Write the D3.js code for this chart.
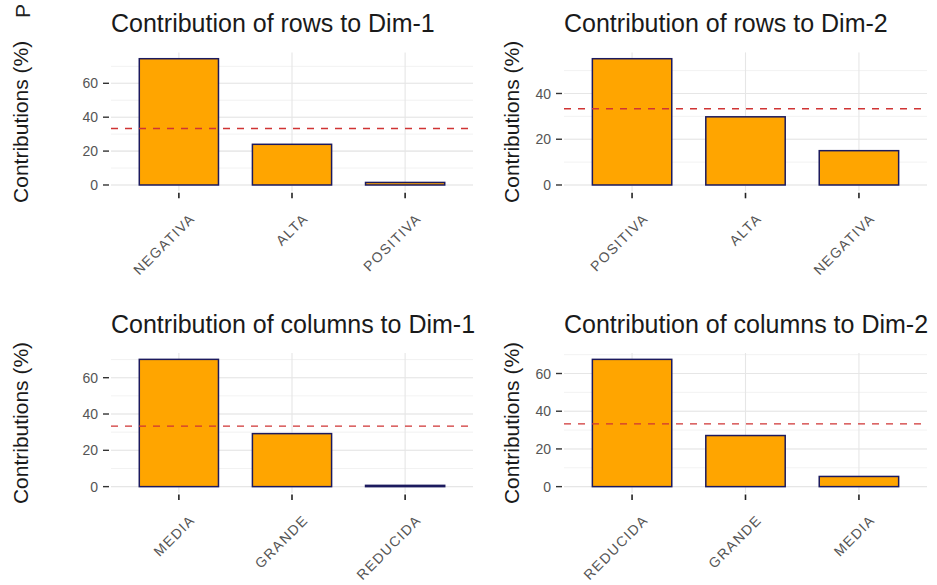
<!DOCTYPE html>
<html>
<head>
<meta charset="utf-8">
<script src="https://cdn.jsdelivr.net/npm/d3@7"></script>
<style>
  html, body { margin: 0; padding: 0; background: #ffffff; }
  svg { display: block; font-family: "Liberation Sans", Arial, sans-serif; }
</style>
</head>
<body>
<svg id="chart" width="937" height="585"></svg>
<script>
// Contribution (%) of each category to the first two dimensions
const rowsDim1Cats = ["NEGATIVA", "ALTA", "POSITIVA"];
const rowsDim1Vals = [74.5, 24.0, 1.5];

const rowsDim2Cats = ["POSITIVA", "ALTA", "NEGATIVA"];
const rowsDim2Vals = [55.2, 29.8, 15.0];

const colsDim1Cats = ["MEDIA", "GRANDE", "REDUCIDA"];
const colsDim1Vals = [70.1, 29.2, 0.7];

const colsDim2Cats = ["REDUCIDA", "GRANDE", "MEDIA"];
const colsDim2Vals = [67.5, 27.1, 5.4];

const panelTitles = [
  "Contribution of rows to Dim-1",
  "Contribution of rows to Dim-2",
  "Contribution of columns to Dim-1",
  "Contribution of columns to Dim-2"
];
const yAxisTitle = "Contributions (%)";
const expectedAverage = 100 / 3;   // reference line: uniform contribution

const svg = d3.select("#chart");

// panel boxes
const colX = [[111, 473], [564, 927]];
const rowY = [[52.4, 191.3], [353, 493]];
const yTitleX = [28, 519];

const panels = [
  { cats: rowsDim1Cats, vals: rowsDim1Vals, title: panelTitles[0], c: 0, r: 0 },
  { cats: rowsDim2Cats, vals: rowsDim2Vals, title: panelTitles[1], c: 1, r: 0 },
  { cats: colsDim1Cats, vals: colsDim1Vals, title: panelTitles[2], c: 0, r: 1 },
  { cats: colsDim2Cats, vals: colsDim2Vals, title: panelTitles[3], c: 1, r: 1 }
];

panels.forEach(p => {
  const [x0, x1] = colX[p.c];
  const [y0, y1] = rowY[p.r];
  const maxV = d3.max(p.vals);

  const x = d3.scaleBand().domain(p.cats).range([x0, x1])
    .paddingInner(0.3).paddingOuter(0.25);
  const y = d3.scaleLinear().domain([-0.05 * maxV, 1.05 * maxV]).range([y1, y0]);
  const cx = d => x(d) + x.bandwidth() / 2;

  const g = svg.append("g");

  // grid
  const minor = y.ticks(8).filter(t => t >= 0);
  const major = y.ticks(4).filter(t => t >= 0);
  g.selectAll(".gminor").data(minor).enter().append("line")
    .attr("x1", x0).attr("x2", x1)
    .attr("y1", d => y(d)).attr("y2", d => y(d))
    .attr("stroke", "#ececec").attr("stroke-width", 0.7);
  g.selectAll(".gmajor").data(major).enter().append("line")
    .attr("x1", x0).attr("x2", x1)
    .attr("y1", d => y(d)).attr("y2", d => y(d))
    .attr("stroke", "#e6e6e6").attr("stroke-width", 1.1);
  g.selectAll(".gx").data(p.cats).enter().append("line")
    .attr("x1", cx).attr("x2", cx)
    .attr("y1", y0).attr("y2", y1)
    .attr("stroke", "#e6e6e6").attr("stroke-width", 1.1);

  // bars
  g.selectAll(".bar").data(p.cats).enter().append("rect")
    .attr("x", d => x(d))
    .attr("width", x.bandwidth())
    .attr("y", (d, i) => y(p.vals[i]))
    .attr("height", (d, i) => y(0) - y(p.vals[i]))
    .attr("fill", "#FFA500")
    .attr("stroke", "#1c1a5e")
    .attr("stroke-width", 1.5);

  // expected-average line
  g.append("line")
    .attr("x1", x0).attr("x2", x1)
    .attr("y1", y(expectedAverage)).attr("y2", y(expectedAverage))
    .attr("stroke", "#d03434").attr("stroke-width", 1.3)
    .attr("stroke-dasharray", "7,7");

  // y axis ticks and labels
  g.selectAll(".yt").data(major).enter().append("line")
    .attr("x1", x0 - 8).attr("x2", x0 - 2)
    .attr("y1", d => y(d)).attr("y2", d => y(d))
    .attr("stroke", "#333").attr("stroke-width", 1.4);
  g.selectAll(".yl").data(major).enter().append("text")
    .attr("x", x0 - 13).attr("y", d => y(d))
    .attr("dy", "0.36em")
    .attr("text-anchor", "end")
    .attr("font-size", 14)
    .attr("fill", "#555")
    .text(d => d);

  // x axis ticks and rotated labels
  g.selectAll(".xt").data(p.cats).enter().append("line")
    .attr("x1", cx).attr("x2", cx)
    .attr("y1", y1 + 1.5).attr("y2", y1 + 7)
    .attr("stroke", "#222").attr("stroke-width", 1.6);
  g.selectAll(".xl").data(p.cats).enter().append("text")
    .attr("transform", d => `translate(${cx(d) + 17},${y1 + 28}) rotate(-45)`)
    .attr("text-anchor", "end")
    .attr("font-size", 14)
    .attr("letter-spacing", "1.4px")
    .attr("fill", "#555")
    .text(d => d);

  // y title
  g.append("text")
    .attr("transform", `translate(${yTitleX[p.c]},${(y0 + y1) / 2}) rotate(-90)`)
    .attr("text-anchor", "middle")
    .attr("font-size", 21)
    .attr("fill", "#1a1a1a")
    .text(yAxisTitle);

  // panel title
  g.append("text")
    .attr("x", x0).attr("y", y0 - 20)
    .attr("font-size", 25)
    .attr("fill", "#1a1a1a")
    .text(p.title);
});

// leftover figure label at the top-left corner
svg.append("text")
  .attr("transform", "translate(30,18) rotate(-90)")
  .attr("font-size", 21)
  .attr("fill", "#222")
  .text("P");
</script>
</body>
</html>
